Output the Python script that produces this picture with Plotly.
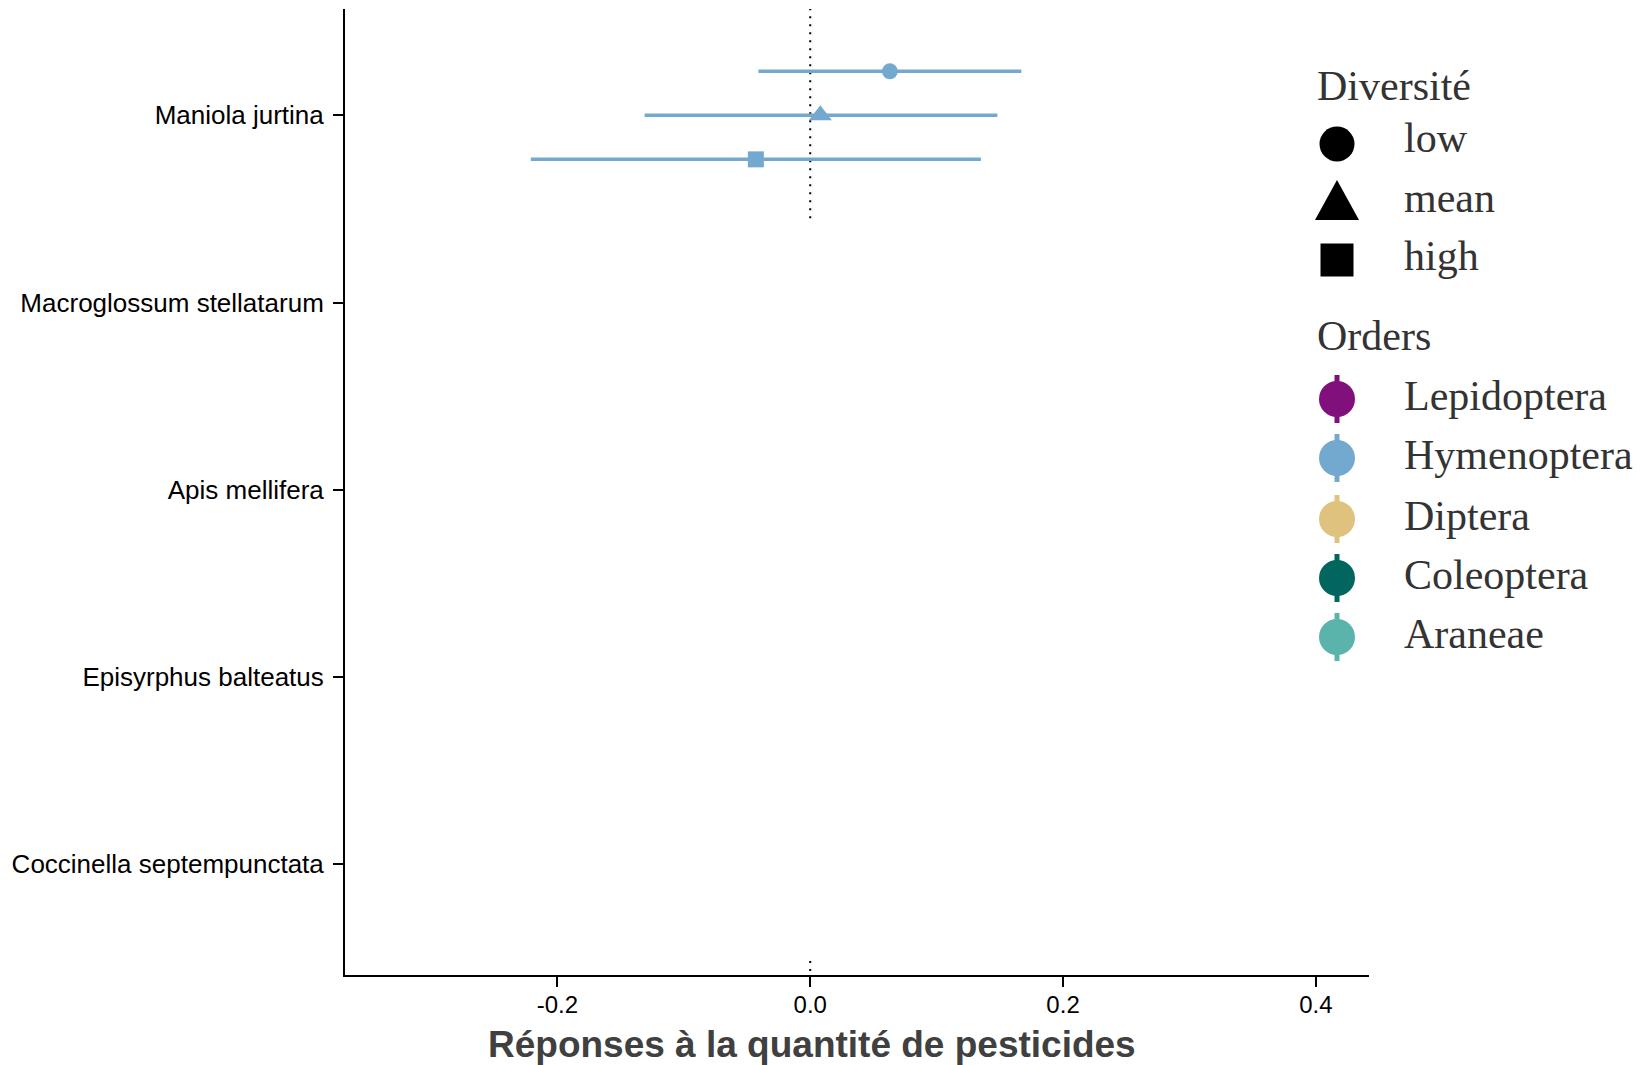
import plotly.graph_objects as go

# ---- data ----
species = ["Maniola jurtina", "Macroglossum stellatarum", "Apis mellifera",
           "Episyrphus balteatus", "Coccinella septempunctata"]
diversity_levels = ["low", "mean", "high"]
est_species = ["Maniola jurtina", "Maniola jurtina", "Maniola jurtina"]
est_diversity = ["low", "mean", "high"]
est_value = [0.063, 0.008, -0.043]
est_lower = [-0.041, -0.131, -0.221]
est_upper = [0.167, 0.148, 0.135]
est_order = ["Hymenoptera", "Hymenoptera", "Hymenoptera"]

orders = ["Lepidoptera", "Hymenoptera", "Diptera", "Coleoptera", "Araneae"]
order_colors = ["#810f7c", "#74a9cf", "#dfc27d", "#01665e", "#5ab4ac"]
x_ticks = [-0.2, 0.0, 0.2, 0.4]
x_tick_labels = ["-0.2", "0.0", "0.2", "0.4"]
x_title = "Réponses à la quantité de pesticides"

# ---- styling / layout constants ----
W, H = 1652, 1065
ML, MR, MT, MB = 337, 291, 1, 98
PW, PH = W - ML - MR, H - MT - MB
symbols = {"low": "circle", "mean": "triangle-up", "high": "square"}
sizes = {"low": 16, "mean": 20, "high": 16}
dodge = {"low": 0.235, "mean": 0.0, "high": -0.235}
color_of = dict(zip(orders, order_colors))
ypos = {s: len(species) - i for i, s in enumerate(species)}

def px_x(p):
    return (p - ML) / PW

def px_y(p):
    return (H - MB - p) / PH

fig = go.Figure()

# zero reference line (dotted), visible only partly as in reference
fig.add_shape(type="line", x0=0, x1=0, y0=4.45, y1=5.57, xref="x", yref="y",
              line=dict(color="black", width=2, dash="2px,6px"), layer="below")
fig.add_shape(type="line", x0=0, x1=0, y0=0.43, y1=0.51, xref="x", yref="y",
              line=dict(color="black", width=2, dash="2px,6px"), layer="below")

for sp, dv, v, lo, hi, od in zip(est_species, est_diversity, est_value,
                                 est_lower, est_upper, est_order):
    fig.add_trace(go.Scatter(
        x=[v], y=[ypos[sp] + dodge[dv]], mode="markers",
        marker=dict(symbol=symbols[dv], size=sizes[dv], color=color_of[od],
                    line=dict(width=0)),
        error_x=dict(type="data", symmetric=False, array=[hi - v],
                     arrayminus=[v - lo], color=color_of[od], thickness=3.5, width=0),
        showlegend=False, xaxis="x", yaxis="y"))

# ---- manual legend ----
sym_x = px_x(1329)
txt_x = px_x(1394)
title_x = px_x(1307)
serif = dict(family="Liberation Serif, Times New Roman, serif", size=42, color="#333333")

div_sym_rows = [136, 192, 252]
div_txt_rows = [130, 190, 248]
for dv, r, rt in zip(diversity_levels, div_sym_rows, div_txt_rows):
    if dv == "mean":
        fig.add_shape(type="path", xref="paper", yref="paper",
                      xsizemode="pixel", ysizemode="pixel",
                      xanchor=sym_x, yanchor=px_y(r),
                      path="M -22,-20 L 22,-20 L 0,20 Z",
                      fillcolor="black", line=dict(width=0))
    else:
        fig.add_trace(go.Scatter(
            x=[sym_x], y=[px_y(r)], mode="markers", xaxis="x2", yaxis="y2",
            marker=dict(symbol=symbols[dv], size=35 if dv == "low" else 33,
                        color="black", line=dict(width=0)),
            showlegend=False, cliponaxis=False, hoverinfo="skip"))
    fig.add_annotation(x=txt_x, y=px_y(rt), xref="paper", yref="paper",
                       text=dv, showarrow=False, xanchor="left", yanchor="middle",
                       font=serif)

ord_rows = [391, 450, 511, 570, 629]
for od, col, r in zip(orders, order_colors, ord_rows):
    fig.add_trace(go.Scatter(
        x=[sym_x], y=[px_y(r)], mode="markers", xaxis="x2", yaxis="y2",
        marker=dict(symbol="circle", size=36, color=col, line=dict(width=0)),
        error_y=dict(type="data", array=[24 / PH], color=col, thickness=5, width=0),
        showlegend=False, cliponaxis=False, hoverinfo="skip"))
    fig.add_annotation(x=txt_x, y=px_y(r - 3), xref="paper", yref="paper",
                       text=od, showarrow=False, xanchor="left", yanchor="middle",
                       font=serif)

fig.add_annotation(x=title_x, y=px_y(78), xref="paper", yref="paper",
                   text="Diversité", showarrow=False, xanchor="left",
                   yanchor="middle", font=serif)
fig.add_annotation(x=title_x, y=px_y(328), xref="paper", yref="paper",
                   text="Orders", showarrow=False, xanchor="left",
                   yanchor="middle", font=serif)

# x-axis title (placed as in the reference, slightly left of panel centre)
fig.add_annotation(x=px_x(804), y=px_y(1036), xref="paper", yref="paper",
                   text="<b>" + x_title + "</b>", showarrow=False,
                   xanchor="center", yanchor="middle",
                   font=dict(family="Liberation Sans, Arial, sans-serif",
                             size=37, color="#404040"))

fig.update_layout(
    width=W, height=H,
    margin=dict(l=ML, r=MR, t=MT, b=MB, pad=0),
    paper_bgcolor="white", plot_bgcolor="white",
    showlegend=False,
    font=dict(family="Liberation Sans, Arial, sans-serif", color="black"),
    xaxis=dict(range=[-0.368, 0.442], tickvals=x_ticks, ticktext=x_tick_labels,
               showgrid=False, zeroline=False, showline=True, linecolor="black",
               linewidth=2, ticks="outside", ticklen=10, tickwidth=2,
               tickcolor="black", tickfont=dict(size=24, color="black"),
               ticklabelstandoff=-3),
    yaxis=dict(range=[0.409, 5.568], tickvals=[ypos[s] for s in species],
               ticktext=species, showgrid=False, zeroline=False, showline=True,
               linecolor="black", linewidth=2, ticks="outside", ticklen=10,
               tickwidth=2, tickcolor="black", ticklabelstandoff=4,
               tickfont=dict(size=26, color="black")),
    xaxis2=dict(range=[0, 1], overlaying="x", anchor="y2", visible=False,
                fixedrange=True),
    yaxis2=dict(range=[0, 1], overlaying="y", anchor="x2", visible=False,
                fixedrange=True),
)

fig.write_html("out.html")
